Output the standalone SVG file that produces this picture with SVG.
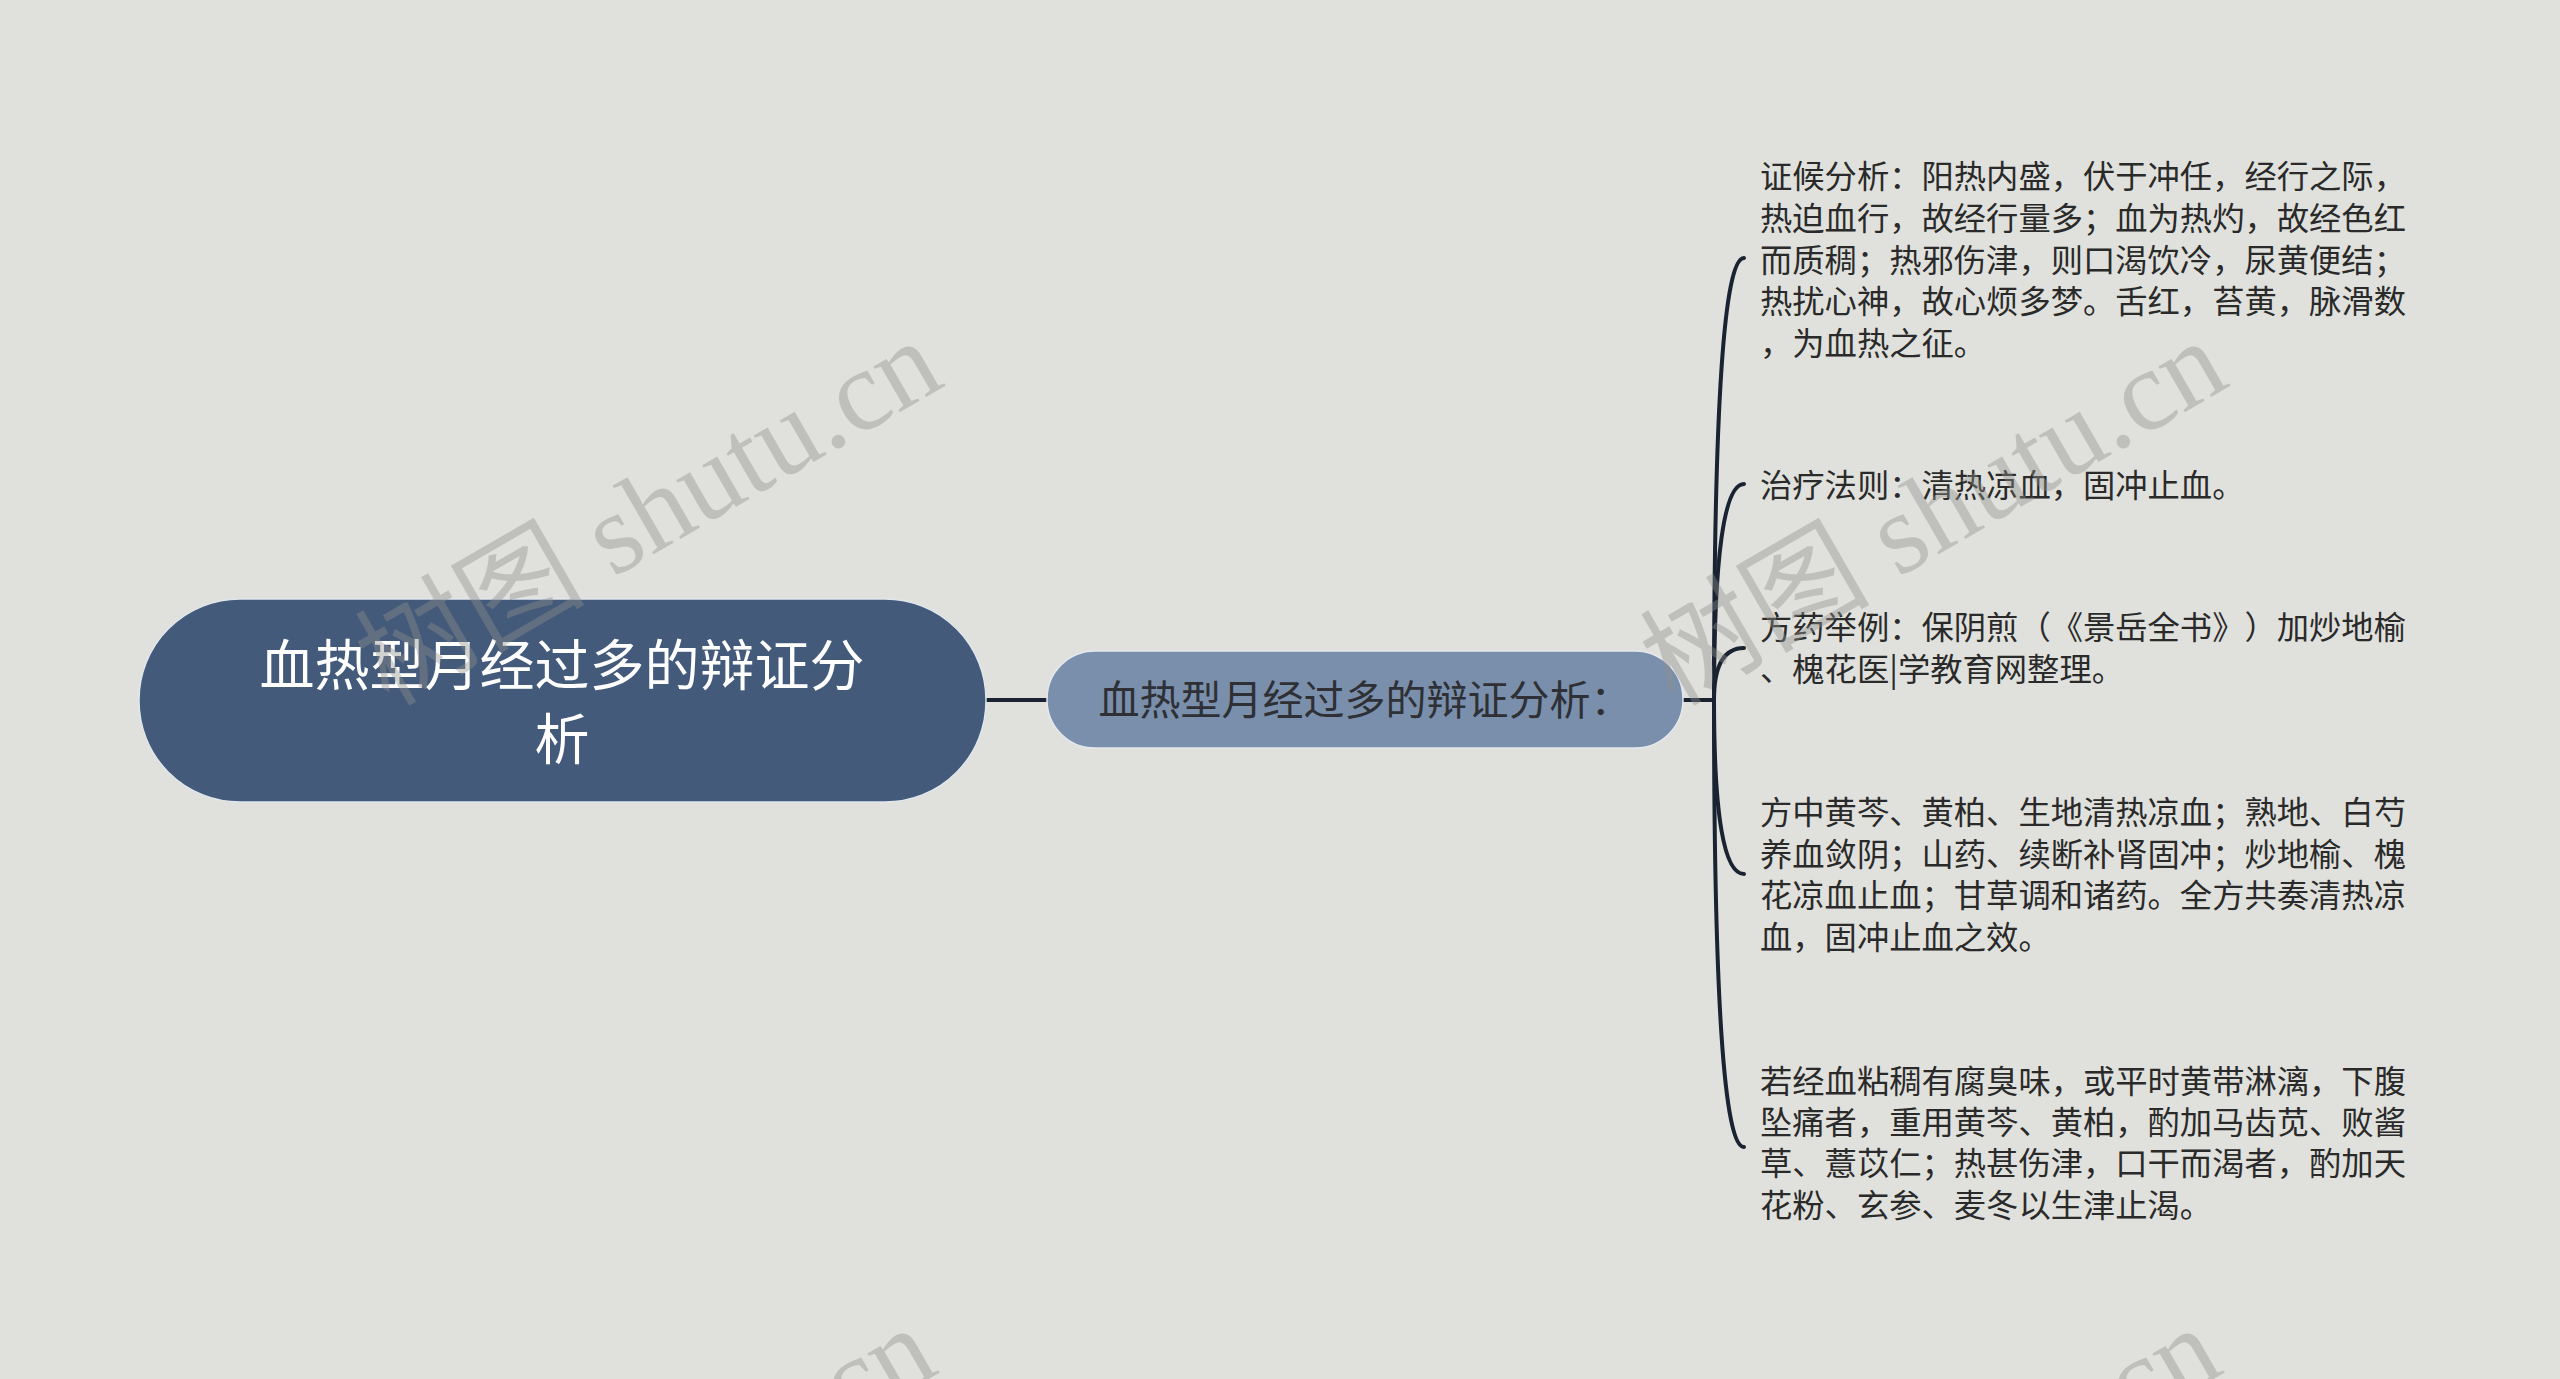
<svg xmlns="http://www.w3.org/2000/svg" width="2560" height="1379" viewBox="0 0 2560 1379">
<style>
.bg{fill:#e0e1dc}
.conn{fill:none;stroke:#1a2332;stroke-width:4;stroke-linecap:round}
.root{fill:#435a7a;stroke:#dfe6ee;stroke-width:1.5}
.rt{font-family:"Noto Sans CJK SC","Noto Sans",sans-serif;font-size:55px;fill:#ffffff;text-anchor:middle}
.mid{fill:#7a8fab;stroke:#e4e9ef;stroke-width:1.5}
.mt{font-family:"Noto Sans CJK SC","Noto Sans",sans-serif;font-size:41px;fill:#2e3035;text-anchor:middle}
.lt{font-family:"Noto Sans CJK SC","Noto Sans",sans-serif;font-size:32.3px;fill:#2a2a2a;text-spacing-trim:space-all}
.wm{font-family:"Liberation Serif","Noto Sans CJK SC",serif;font-size:115px;fill:#8e8f8c;fill-opacity:0.4;text-anchor:middle}
</style>
<rect class="bg" x="0" y="0" width="2560" height="1379"/>
<g id="connectors">
<path class="conn" d="M986 700 L1047 700"/>
<path class="conn" d="M1683 700 L1714 700"/>
<path class="conn" d="M1714 700 Q1714 258 1744 258"/>
<path class="conn" d="M1714 700 Q1714 484 1744 484"/>
<path class="conn" d="M1714 700 Q1714 648 1744 648"/>
<path class="conn" d="M1714 700 Q1714 874 1744 874"/>
<path class="conn" d="M1714 700 Q1714 1147 1744 1147"/>
</g>
<g id="root">
<rect class="root" x="139" y="599" width="847" height="203" rx="101" ry="101"/>
<text class="rt" x="562" y="685">血热型月经过多的辩证分</text>
<text class="rt" x="562" y="759">析</text>
</g>
<g id="central">
<rect class="mid" x="1047" y="651" width="636" height="97" rx="48" ry="48"/>
<text class="mt" x="1365" y="715">血热型月经过多的辩证分析：</text>
</g>
<g id="n1">
<text class="lt" x="1760" y="188">证候分析：阳热内盛，伏于冲任，经行之际，</text>
<text class="lt" x="1760" y="230">热迫血行，故经行量多；血为热灼，故经色红</text>
<text class="lt" x="1760" y="272">而质稠；热邪伤津，则口渴饮冷，尿黄便结；</text>
<text class="lt" x="1760" y="313">热扰心神，故心烦多梦。舌红，苔黄，脉滑数</text>
<text class="lt" x="1760" y="355">，为血热之征。</text>
</g>
<g id="n2">
<text class="lt" x="1760" y="497">治疗法则：清热凉血，固冲止血。</text>
</g>
<g id="n3">
<text class="lt" x="1760" y="639">方药举例：保阴煎（《景岳全书》）加炒地榆</text>
<text class="lt" x="1760" y="681">、槐花医|学教育网整理。</text>
</g>
<g id="n4">
<text class="lt" x="1760" y="824">方中黄芩、黄柏、生地清热凉血；熟地、白芍</text>
<text class="lt" x="1760" y="866">养血敛阴；山药、续断补肾固冲；炒地榆、槐</text>
<text class="lt" x="1760" y="907">花凉血止血；甘草调和诸药。全方共奏清热凉</text>
<text class="lt" x="1760" y="949">血，固冲止血之效。</text>
</g>
<g id="n5">
<text class="lt" x="1760" y="1093">若经血粘稠有腐臭味，或平时黄带淋漓，下腹</text>
<text class="lt" x="1760" y="1134">坠痛者，重用黄芩、黄柏，酌加马齿苋、败酱</text>
<text class="lt" x="1760" y="1175">草、薏苡仁；热甚伤津，口干而渴者，酌加天</text>
<text class="lt" x="1760" y="1217">花粉、玄参、麦冬以生津止渴。</text>
</g>
<g id="watermarks">
<text class="wm" transform="translate(668 546) rotate(-30)">树图 shutu.cn</text>
<text class="wm" transform="translate(1953 546) rotate(-30)">树图 shutu.cn</text>
<text class="wm" transform="translate(662 1533) rotate(-30)">树图 shutu.cn</text>
<text class="wm" transform="translate(1947 1533) rotate(-30)">树图 shutu.cn</text>
</g>
</svg>
